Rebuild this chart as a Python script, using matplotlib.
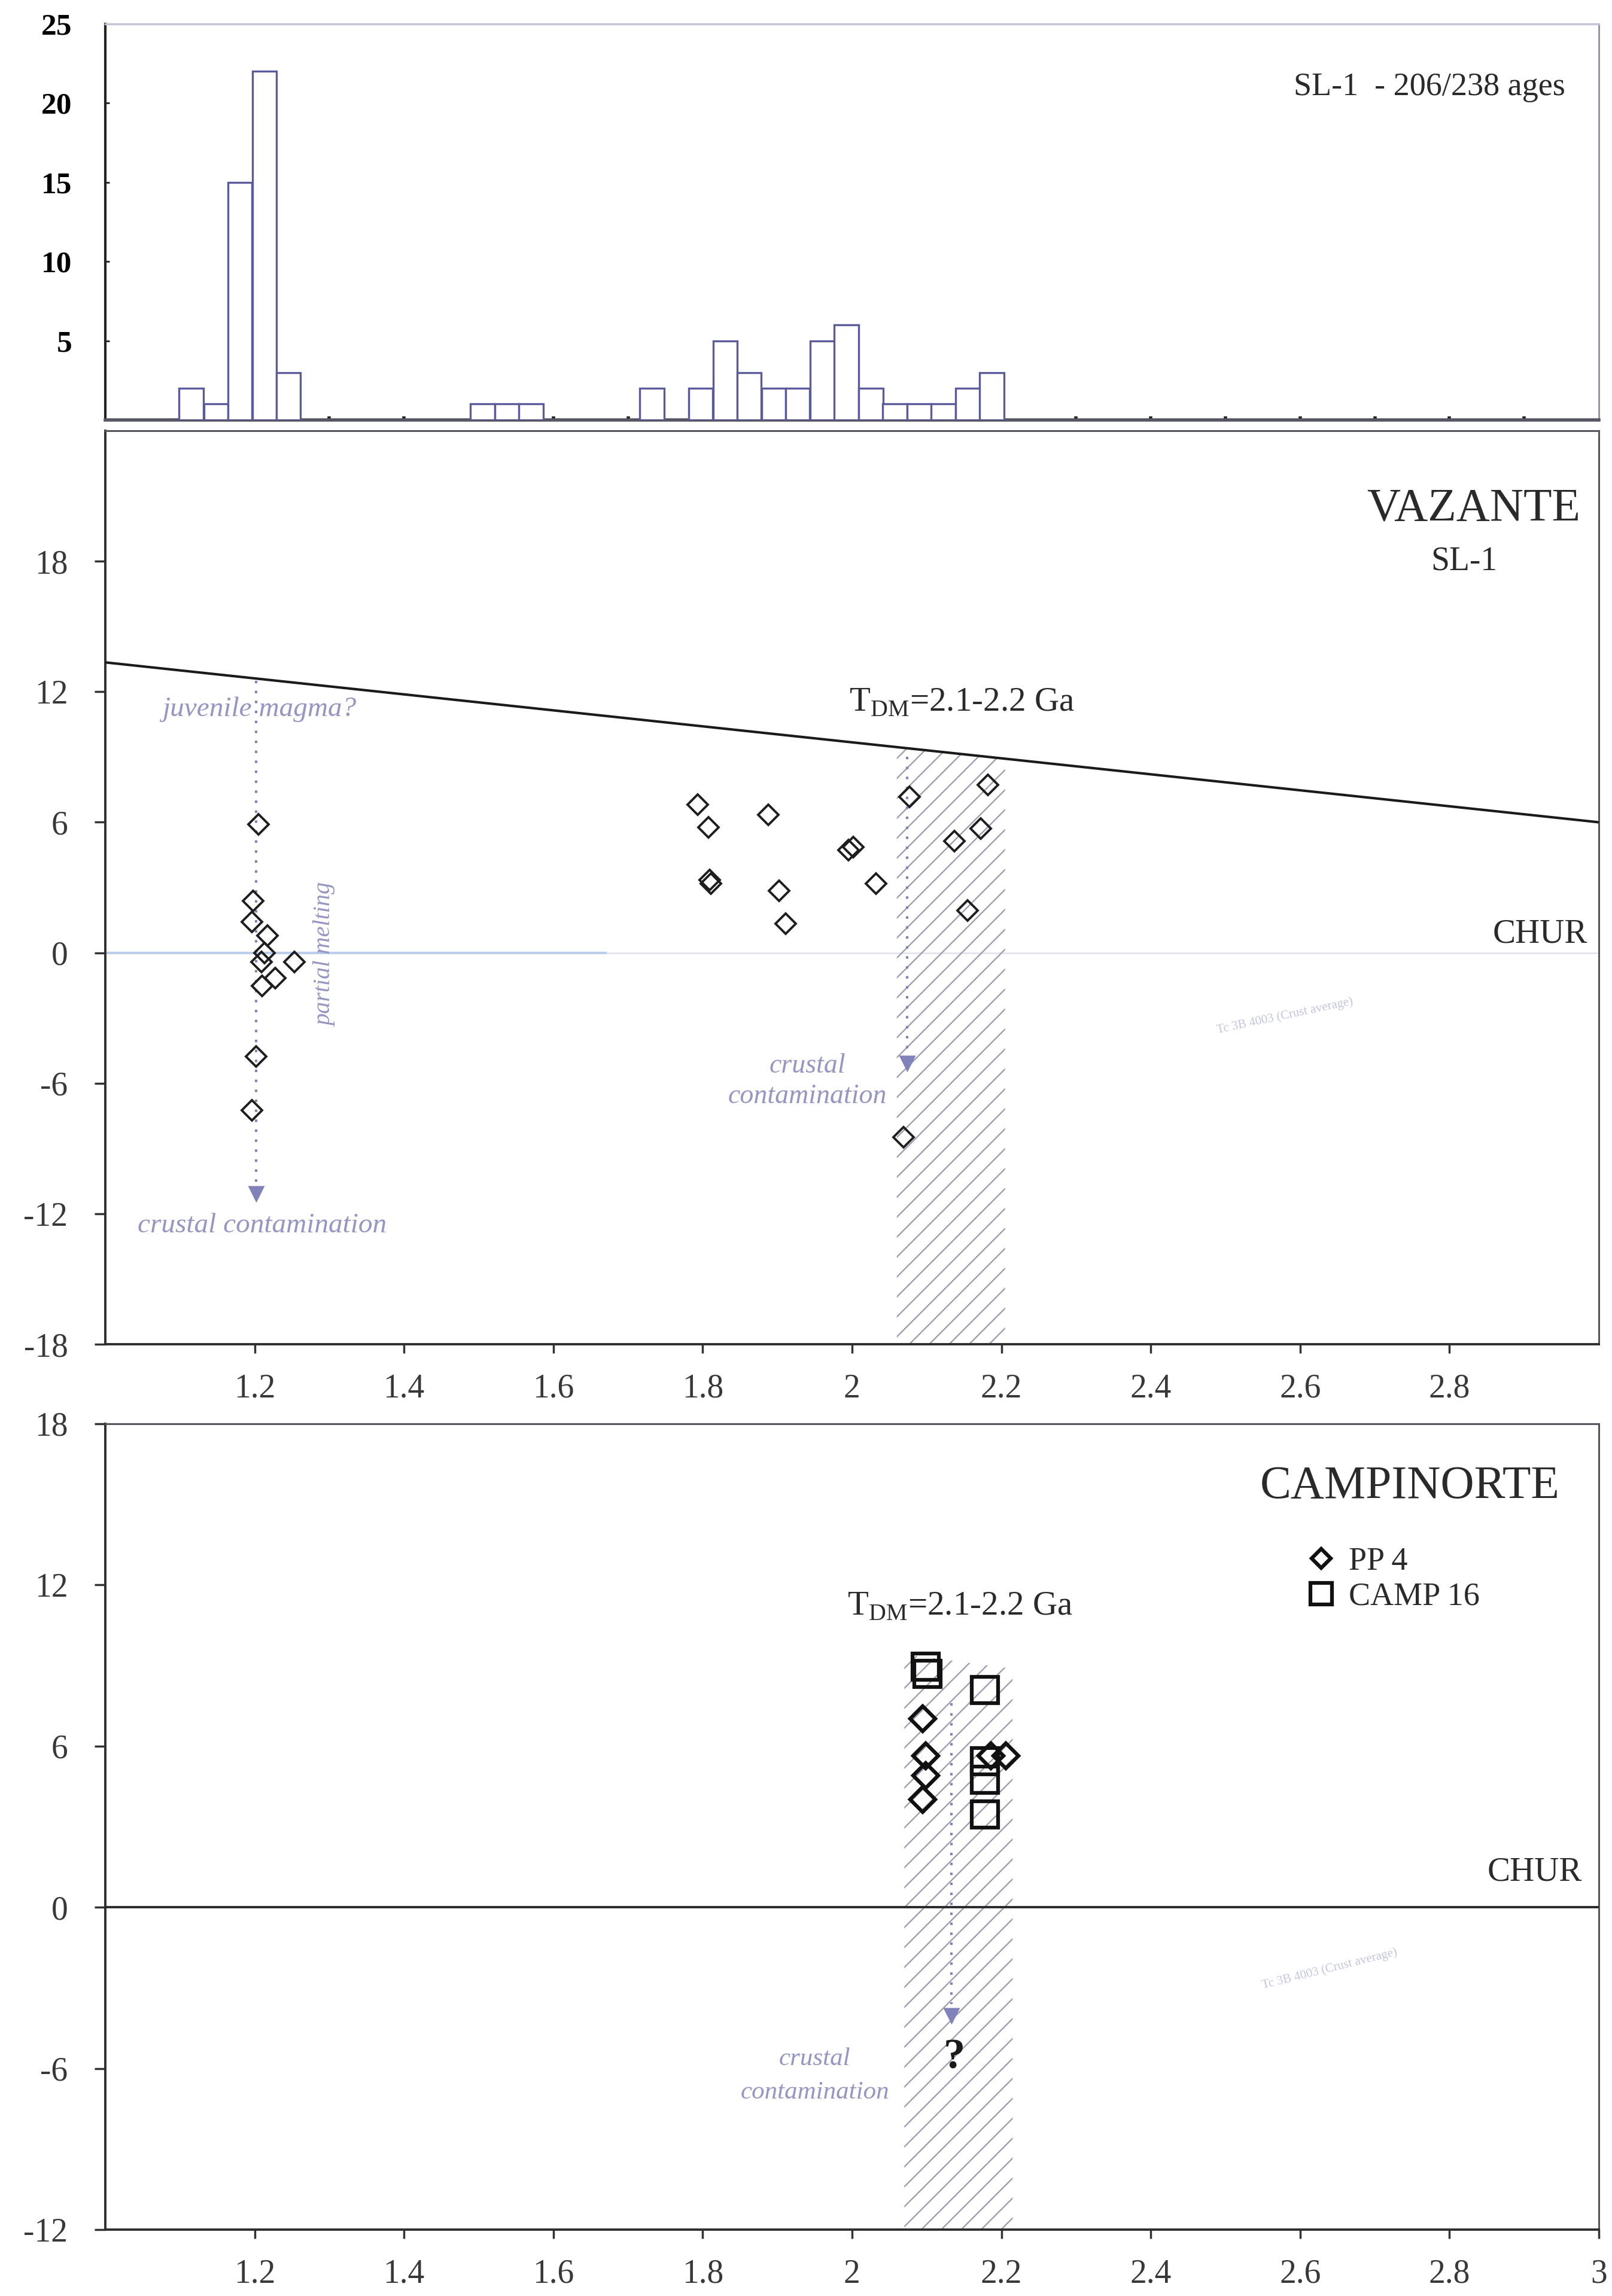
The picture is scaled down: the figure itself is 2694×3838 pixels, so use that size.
import matplotlib as mpl
import matplotlib.pyplot as plt
import numpy as np

plt.rcParams['font.family'] = ['Liberation Serif', 'DejaVu Serif']
plt.rcParams['axes.unicode_minus'] = False
plt.rcParams['hatch.linewidth'] = 1.6

# --- data ------------------------------------------------------------
# histogram of 206/238 ages (Ga) for SL-1, only the non-empty bins
hist_left = [1.099, 1.132, 1.164, 1.197, 1.229,
             1.489, 1.522, 1.554,
             1.716, 1.781, 1.814, 1.846, 1.879, 1.911, 1.944, 1.976,
             2.009, 2.041, 2.074, 2.106, 2.139, 2.171]
hist_count = [2, 1, 15, 22, 3,
              1, 1, 1,
              2, 2, 5, 3, 2, 2, 5, 6,
              2, 1, 1, 1, 2, 3]
bin_w = 0.0325

# VAZANTE SL-1 : age (Ga) vs epsilon Hf
vaz_age = [1.205, 1.198, 1.196, 1.217, 1.213, 1.209, 1.228, 1.210, 1.253, 1.202, 1.196,
           1.793, 1.808, 1.888, 1.809, 1.811, 1.902, 1.911, 1.995, 2.002, 2.032,
           2.077, 2.137, 2.172, 2.182, 2.155, 2.069]
vaz_eps = [5.9, 2.39, 1.43, 0.80, 0.0, -0.42, -1.16, -1.53, -0.42, -4.76, -7.24,
           6.81, 5.76, 6.34, 3.35, 3.17, 2.86, 1.35, 4.71, 4.86, 3.17,
           7.18, 5.14, 5.70, 7.73, 1.94, -8.49]

# CAMPINORTE samples
pp4_age = [2.095, 2.099, 2.099, 2.095, 2.186, 2.206]
pp4_eps = [7.01, 5.64, 4.90, 4.01, 5.64, 5.64]
camp16_age = [2.099, 2.101, 2.178, 2.178, 2.178, 2.178]
camp16_eps = [8.95, 8.70, 8.08, 5.43, 4.75, 3.45]

# depleted mantle evolution line
dm_age = [1.0, 3.0]
dm_eps = [13.35, 6.0]

# T_DM shaded ranges
tdm_vaz = [2.06, 2.205]
tdm_camp = [2.07, 2.215]

ink = '#222222'
violet = '#8282ba'
note = '#9696c4'
hatch_col = '#9a9aae'

fig = plt.figure(figsize=(26.94, 38.38), dpi=100)
L, W = 0.0653, 0.9265
ax_h = fig.add_axes([L, 0.8171, W, 0.1725])
ax_v = fig.add_axes([L, 0.4145, W, 0.3979])
ax_c = fig.add_axes([L, 0.0289, W, 0.3510])

# ---------------- histogram ----------------
ax_h.bar(hist_left, hist_count, width=bin_w, align='edge',
         facecolor='white', edgecolor='#5a5a9c', linewidth=2.4, zorder=3)
ax_h.axhline(0, color='#a0a0c4', lw=1.5, zorder=2)
ax_h.set_xlim(1.0, 3.0)
ax_h.set_ylim(0, 25)
ax_h.set_yticks([5, 10, 15, 20, 25])
ax_h.set_xticks(np.arange(1.1, 3.0, 0.1))
ax_h.tick_params(axis='x', direction='in', length=4, width=4, color=ink, labelbottom=False)
ax_h.tick_params(axis='y', direction='in', length=5, width=2, color=ink, pad=40, labelsize=37)
for lab in ax_h.get_yticklabels():
    lab.set_fontweight('bold')
ax_h.spines['left'].set_linewidth(3)
ax_h.spines['left'].set_color(ink)
ax_h.spines['bottom'].set_linewidth(4)
ax_h.spines['bottom'].set_color('#555566')
ax_h.spines['top'].set_linewidth(2.5)
ax_h.spines['top'].set_color('#c4c4d6')
ax_h.spines['right'].set_linewidth(2)
ax_h.spines['right'].set_color('#8e8ea4')
ax_h.text(2.955, 21.0, 'SL-1  - 206/238 ages', ha='right', va='center', fontsize=39, color='#2a2a2a')


def style_panel(ax, ylo, yhi, xticks, xlabels):
    ax.set_xlim(1.0, 3.0)
    ax.set_ylim(ylo, yhi)
    ax.set_yticks(np.arange(ylo, yhi + 1, 6))
    ax.set_xticks(xticks)
    ax.set_xticklabels(xlabels)
    ax.tick_params(axis='y', direction='out', length=13, width=2.5, color='#333333',
                   pad=32, labelsize=40, labelcolor='#383838')
    ax.tick_params(axis='x', direction='out', length=11, width=2.5, color='#333333',
                   pad=24, labelsize=40, labelcolor='#383838')
    for s in ['left', 'bottom']:
        ax.spines[s].set_linewidth(2.8)
        ax.spines[s].set_color('#2e2e2e')
    for s in ['top', 'right']:
        ax.spines[s].set_linewidth(2.2)
        ax.spines[s].set_color('#555560')


# ---------------- VAZANTE ----------------
style_panel(ax_v, -18, 24, [1.2, 1.4, 1.6, 1.8, 2.0, 2.2, 2.4, 2.6, 2.8],
            ['1.2', '1.4', '1.6', '1.8', '2', '2.2', '2.4', '2.6', '2.8'])
ax_v.set_yticks([-18, -12, -6, 0, 6, 12, 18])

xs = np.array(tdm_vaz)
ax_v.fill_between(xs, -18, np.interp(xs, dm_age, dm_eps), facecolor='none',
                  edgecolor=hatch_col, hatch='/', linewidth=0, zorder=1)
ax_v.axhline(0, color='#e4e4ec', lw=2, zorder=0)
ax_v.plot([1.0, 1.67], [0, 0], color='#bccdec', lw=3, zorder=0)
ax_v.plot(dm_age, dm_eps, color='#1a1a1a', lw=3, zorder=4)

# arrows
ax_v.plot([1.202, 1.202], [12.5, -10.6], ls=(0, (1, 3)), color=violet, lw=3, zorder=2)
ax_v.plot(1.202, -11.1, marker='v', ms=20, color=violet, mec='none', zorder=2)
ax_v.plot([2.074, 2.074], [9.0, -4.6], ls=(0, (1, 3)), color=violet, lw=3, zorder=2)
ax_v.plot(2.074, -5.1, marker='v', ms=20, color=violet, mec='none', zorder=2)

ax_v.plot(vaz_age, vaz_eps, ls='none', marker='D', ms=17, mfc='none', mec='#1e1e1e',
          mew=2.8, zorder=5)

ax_v.text(2.975, 20.4, 'VAZANTE', ha='right', va='center', fontsize=56, color='#2a2a2a')
ax_v.text(2.82, 18.0, 'SL-1', ha='center', va='center', fontsize=40, color='#2a2a2a')
ax_v.text(2.985, 0.85, 'CHUR', ha='right', va='center', fontsize=41, color='#2a2a2a')
ax_v.text(1.996, 11.5, r'T$_{\mathregular{DM}}$=2.1-2.2 Ga', ha='left', va='center',
          fontsize=41, color='#2a2a2a')
ax_v.text(1.206, 11.2, 'juvenile magma?', ha='center', va='center', fontsize=34,
          style='italic', color=note)
ax_v.text(1.21, -12.55, 'crustal contamination', ha='center', va='center', fontsize=34,
          style='italic', color=note)
ax_v.text(1.295, -0.1, 'partial melting', ha='center', va='center', fontsize=29,
          style='italic', rotation=90, color=note)
ax_v.text(1.94, -5.2, 'crustal', ha='center', va='center', fontsize=33,
          style='italic', color=note)
ax_v.text(1.94, -6.6, 'contamination', ha='center', va='center', fontsize=33,
          style='italic', color=note)
ax_v.text(2.58, -2.9, 'Tc 3B 4003 (Crust average)', ha='center', va='center', fontsize=15,
          rotation=12, color='#c4c4e0')

# ---------------- CAMPINORTE ----------------
style_panel(ax_c, -12, 18, [1.2, 1.4, 1.6, 1.8, 2.0, 2.2, 2.4, 2.6, 2.8, 3.0],
            ['1.2', '1.4', '1.6', '1.8', '2', '2.2', '2.4', '2.6', '2.8', '3'])

xs = np.array(tdm_camp)
ax_c.fill_between(xs, -12, np.interp(xs, dm_age, dm_eps), facecolor='none',
                  edgecolor=hatch_col, hatch='/', linewidth=0, zorder=1)
ax_c.axhline(0, color='#2a2a2a', lw=2.8, zorder=3)
ax_c.plot([2.133, 2.133], [7.6, -3.6], ls=(0, (1, 3)), color=violet, lw=3, zorder=2)
ax_c.plot(2.133, -4.05, marker='v', ms=20, color=violet, mec='none', zorder=2)

ax_c.plot(pp4_age, pp4_eps, ls='none', marker='D', ms=21, mfc='none', mec='#111111',
          mew=4.5, zorder=5, label='PP 4')
ax_c.plot(camp16_age, camp16_eps, ls='none', marker='s', ms=32, mfc='none', mec='#111111',
          mew=4.5, zorder=5, label='CAMP 16')
leg = ax_c.legend(loc='center left', bbox_to_anchor=(2.585, 12.2), bbox_transform=ax_c.transData,
                  frameon=False, fontsize=39, markerscale=0.8, handlelength=1.0,
                  handletextpad=0.35, labelspacing=0.15, borderpad=0)
for t in leg.get_texts():
    t.set_color('#2a2a2a')

ax_c.text(2.948, 15.65, 'CAMPINORTE', ha='right', va='center', fontsize=56, color='#2a2a2a')
ax_c.text(2.978, 1.3, 'CHUR', ha='right', va='center', fontsize=41, color='#2a2a2a')
ax_c.text(1.994, 11.2, r'T$_{\mathregular{DM}}$=2.1-2.2 Ga', ha='left', va='center',
          fontsize=41, color='#2a2a2a')
ax_c.text(2.137, -5.6, '?', ha='center', va='center', fontsize=52, fontweight='bold',
          color='#1a1a1a')
ax_c.text(1.95, -5.65, 'crustal', ha='center', va='center', fontsize=31,
          style='italic', color=note)
ax_c.text(1.95, -6.9, 'contamination', ha='center', va='center', fontsize=31,
          style='italic', color=note)
ax_c.text(2.64, -2.3, 'Tc 3B 4003 (Crust average)', ha='center', va='center', fontsize=15,
          rotation=14, color='#c4c4e0')

plt.savefig('out.png', dpi=100, facecolor='white')
